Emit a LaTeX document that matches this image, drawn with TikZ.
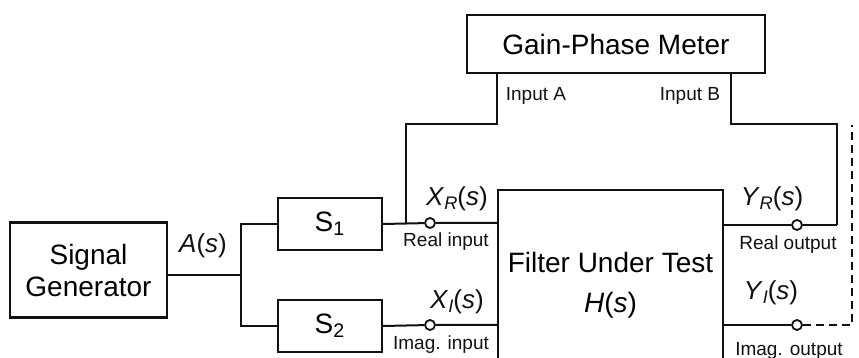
\documentclass[tikz,border=0pt]{standalone}
\usepackage{fontspec}
\setmainfont{Liberation Sans}
\usepackage{tikz}
\usetikzlibrary{calc}
\definecolor{INK}{HTML}{111111}
\newcommand{\sgl}[2]{\textit{#1}\textsubscript{\textit{#2}}\kern-0.5pt(\textit{s})}

\begin{document}
\begin{tikzpicture}[x=0.5pt,y=0.5pt]
\tikzset{blk/.style={draw=INK,line width=1.2pt,fill=white,font=\fontsize{14}{16}\selectfont,align=center,inner sep=0pt},
 ln/.style={INK,line width=1pt},term/.style={circle,draw=INK,line width=0.9pt,fill=white,minimum size=5pt,inner sep=0pt},
 lbl/.style={INK,font=\fontsize{13}{16}\selectfont,inner sep=0pt},sm/.style={INK,font=\fontsize{9.5}{11}\selectfont,inner sep=0pt}}
\useasboundingbox (0,0) rectangle (859,358);
\node[blk,minimum width=78.5pt,minimum height=47.5pt] (gen) at (88.5,88) {Signal\\Generator};
\node[blk,minimum width=52pt,minimum height=26pt] (sone) at (330,134) {S\textsubscript{1}};
\node[blk,minimum width=52pt,minimum height=26pt] (stwo) at (330,32) {S\textsubscript{2}};
\node[blk,minimum width=112.5pt,minimum height=95pt] (filt) at (610.5,73) {Filter Under Test\\[4pt]\textit{H}(\textit{s})};
\node[blk,minimum width=149pt,minimum height=29pt] (meter) at (616,314) {Gain-Phase Meter};
\node[term] (xr) at (430,135) {};
\node[term] (xi) at (430,33) {};
\node[term] (yr) at (797,133) {};
\node[term] (yi) at (797,33) {};
\coordinate (j) at (241,83);
\coordinate (ina) at ([xshift=15.5pt]meter.south west);
\coordinate (inb) at ([xshift=-17.5pt]meter.south east);
\coordinate (tapa) at (406,135);
\coordinate (tapb) at (837,133);
\coordinate (dend) at (852,233);
\draw[ln] (gen.east |- j) -- (j);
\draw[ln] (sone.west) -| (j) |- (stwo.west);
\draw[ln] (sone.east) -- (xr) -- (xr -| filt.west);
\draw[ln] (stwo.east) -- (xi) -- (xi -| filt.west);
\draw[ln] (filt.east |- yr) -- (yr) -- (tapb);
\draw[ln] (filt.east |- yi) -- (yi);
\draw[ln] (ina) -- ++(0,-50) -| (tapa);
\draw[ln] (inb) -- ++(0,-50) -| (tapb);
\draw[ln,dash pattern=on 4pt off 2.5pt] (yi) -| (dend);
\node[lbl] (las) at (203,112) {\textit{A}(\textit{s})};
\node[lbl] (lxr) at (457,159) {\sgl{X}{R}};
\node[sm] (lri) at (446,116) {Real input};
\node[lbl] (lxi) at (457,56) {\sgl{X}{I}};
\node[sm] (lii) at (441,13) {Imag. input};
\node[lbl] (lyr) at (772,159) {\sgl{Y}{R}};
\node[sm] (lro) at (788,113) {Real output};
\node[lbl] (lyi) at (771,65) {\sgl{Y}{I}};
\node[sm] (lio) at (789,7) {Imag. output};
\node[sm] (lina) at (536,262) {Input A};
\node[sm] (linb) at (690,262) {Input B};
\end{tikzpicture}
\end{document}
